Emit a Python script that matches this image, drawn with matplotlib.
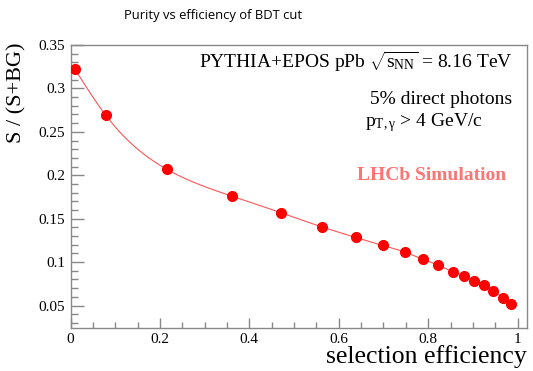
import numpy as np
import matplotlib
matplotlib.use("Agg")
import matplotlib.pyplot as plt
from matplotlib.ticker import MultipleLocator

# ---- data ----
efficiency = [0.010, 0.079, 0.215, 0.361, 0.470, 0.562, 0.638, 0.698, 0.748,
              0.789, 0.823, 0.855, 0.881, 0.903, 0.925, 0.946, 0.967, 0.985]
purity = [0.322, 0.269, 0.207, 0.176, 0.157, 0.1406, 0.1284, 0.1192, 0.1115,
          0.1031, 0.0963, 0.0889, 0.0837, 0.0785, 0.0731, 0.0667, 0.0590, 0.0517]

title = "Purity vs efficiency of BDT cut"
xlabel = "selection efficiency"
ylabel = "S / (S+BG)"


def natural_spline(x, y, n=600):
    x = np.asarray(x, float)
    y = np.asarray(y, float)
    m = len(x)
    h = np.diff(x)
    A = np.zeros((m, m))
    r = np.zeros(m)
    A[0, 0] = 1
    A[-1, -1] = 1
    for i in range(1, m - 1):
        A[i, i - 1] = h[i - 1]
        A[i, i] = 2 * (h[i - 1] + h[i])
        A[i, i + 1] = h[i]
        r[i] = 3 * ((y[i + 1] - y[i]) / h[i] - (y[i] - y[i - 1]) / h[i - 1])
    c = np.linalg.solve(A, r)
    b = (y[1:] - y[:-1]) / h - h * (2 * c[:-1] + c[1:]) / 3
    d = (c[1:] - c[:-1]) / (3 * h)
    xs = np.linspace(x[0], x[-1], n)
    idx = np.clip(np.searchsorted(x, xs) - 1, 0, m - 2)
    dx = xs - x[idx]
    ys = y[idx] + b[idx] * dx + c[idx] * dx ** 2 + d[idx] * dx ** 3
    return xs, ys


plt.rcParams['font.family'] = ['Liberation Serif', 'DejaVu Serif']
plt.rcParams['mathtext.fontset'] = 'custom'
plt.rcParams['mathtext.rm'] = 'Liberation Serif'
plt.rcParams['mathtext.it'] = 'Liberation Serif:italic'
plt.rcParams['mathtext.bf'] = 'Liberation Serif:bold'

W, H = 533, 371
fig = plt.figure(figsize=(W / 100, H / 100), dpi=100)
ax = fig.add_axes([70.5 / W, 1 - 327.7 / H, (527 - 70.5) / W, (327.7 - 45) / H])

xs, ys = natural_spline(efficiency, purity)
ax.plot(xs, ys, color='#ff5555', lw=0.8, zorder=2)
ax.plot(efficiency, purity, 'o', color='#ff0000', ms=7, mec='#ff0000', zorder=3)

ax.set_xlim(0, 1.021)
ax.set_ylim(0.0245, 0.35)

frame_col = '#888888'
for s in ax.spines.values():
    s.set_color(frame_col)
    s.set_linewidth(1.0)

ax.xaxis.set_major_locator(MultipleLocator(0.2))
ax.xaxis.set_minor_locator(MultipleLocator(0.05))
ax.yaxis.set_major_locator(MultipleLocator(0.05))
ax.yaxis.set_minor_locator(MultipleLocator(0.01))
ax.xaxis.set_major_formatter(matplotlib.ticker.FuncFormatter(lambda v, p: f"{v:g}"))
ax.yaxis.set_major_formatter(matplotlib.ticker.FuncFormatter(lambda v, p: f"{v:g}"))

ax.tick_params(axis='x', which='major', direction='in', length=7, width=1, color=frame_col,
               labelsize=11, pad=4, top=False)
ax.tick_params(axis='x', which='minor', direction='in', length=4, width=1, color=frame_col, top=False)
ax.tick_params(axis='y', which='major', direction='in', length=9, width=1, color=frame_col,
               labelsize=11, pad=4, right=False)
ax.tick_params(axis='y', which='minor', direction='in', length=5, width=1, color=frame_col, right=False)

fig.text(527 / W, 1 - 357 / H, xlabel, ha='right', va='center', fontsize=18.5)
fig.text(17 / W, 1 - 92.5 / H, ylabel, ha='center', va='center', rotation=90, fontsize=16)

fig.text(213 / W, 1 - 15 / H, title, ha='center', va='center', fontsize=9.4,
         family=['Open Sans', 'DejaVu Sans'])

fig.text(513 / W, 1 - 62 / H, r'PYTHIA+EPOS pPb $\sqrt{\mathrm{s}_{\mathrm{NN}}}$ = 8.16 TeV',
         ha='right', va='center', fontsize=14)
fig.text(512 / W, 1 - 100 / H, '5% direct photons', ha='right', va='center', fontsize=14)
fig.text(365 / W, 1 - 123 / H, r'p$_{\mathrm{T,γ}}$ > 4 GeV/c', ha='left', va='center', fontsize=14)
fig.text(506 / W, 1 - 175 / H, 'LHCb Simulation', ha='right', va='center', fontsize=14,
         fontweight='bold', color='#ff7373')

fig.savefig('out.png', dpi=100)
